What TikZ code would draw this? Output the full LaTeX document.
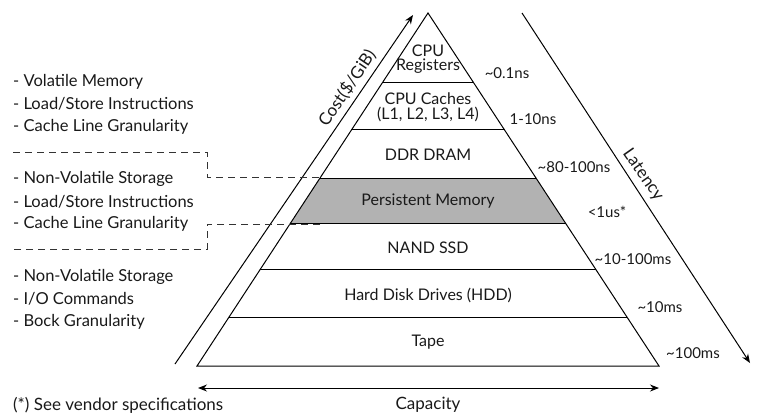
\documentclass[tikz,border=0pt]{standalone}
\usepackage{fontspec}
\setmainfont{Lato}
\usetikzlibrary{arrows.meta,calc}
\tikzset{
  tiername/.style={font=\fontsize{16}{17}\selectfont, align=center, inner sep=1pt},
  note/.style={anchor=west, font=\fontsize{16.5}{17}\selectfont, inner sep=0pt},
  delay/.style={font=\fontsize{15}{16}\selectfont, inner sep=1pt},
  axislabel/.style={font=\fontsize{17}{18}\selectfont, inner sep=1pt},
  axis/.style={line width=1pt, -{Stealth[length=9pt,width=7pt]}},
  guide/.style={dash pattern=on 7pt off 5pt, line width=1pt, black!80},
}
\begin{document}
\begin{tikzpicture}[x=1pt,y=-1pt,text=black!90]
  \useasboundingbox (0,0) rectangle (759,416);
  \coordinate (top) at (428,13);
  \coordinate (bl) at (197,366);
  \coordinate (br) at (659,366);
  % persistent memory band
  \fill [black!30] ($(top)!0.4674!(bl)$) -- ($(top)!0.4674!(br)$)
     -- ($(top)!0.5977!(br)$) -- ($(top)!0.5977!(bl)$) -- cycle;
  \draw [line width=1pt] (top) -- (bl) -- (br) -- cycle;
  \foreach \f in {0.1955,0.3314,0.4674,0.5977,0.7280,0.8612}
    \draw [line width=1pt] ($(top)!\f!(bl)$) -- ($(top)!\f!(br)$);
  \node [tiername] (reg) at (428,59) {CPU\\[-3pt]Registers};
  \node [tiername] (cache) at (428,107) {CPU Caches\\[-2pt](L1, L2, L3, L4)};
  \node [tiername] (dram) at (428,155) {DDR DRAM};
  \node [tiername] (pmem) at (428,201) {Persistent Memory};
  \node [tiername] (ssd) at (428,248) {NAND SSD};
  \node [tiername] (hdd) at (428,295) {Hard Disk Drives (HDD)};
  \node [tiername] (tape) at (428,342) {Tape};
  % latencies
  \node [delay] (l1) at (507,73) {\textasciitilde0.1ns};
  \node [delay] (l2) at (533,119) {1-10ns};
  \node [delay] (l3) at (574,167) {\textasciitilde80-100ns};
  \node [delay] (l4) at (607,212) {<1us*};
  \node [delay] (l5) at (633,259) {\textasciitilde10-100ms};
  \node [delay] (l6) at (660,307) {\textasciitilde10ms};
  \node [delay] (l7) at (693,353) {\textasciitilde100ms};
  % axes
  \coordinate (costa) at (175,364);
  \coordinate (costb) at (413,15);
  \coordinate (lata) at (522,13);
  \coordinate (latb) at (750,363);
  \coordinate (capa) at (198,388);
  \coordinate (capb) at (659,388);
  \draw [axis] (costa) -- (costb);
  \draw [axis] (lata) -- (latb);
  \draw [axis,{Stealth[length=9pt,width=7pt]}-{Stealth[length=9pt,width=7pt]}] (capa) -- (capb);
  \node [axislabel,rotate=56] (cost) at (347,88) {Cost(\$/GiB)};
  \node [axislabel,rotate=-55] (lat) at (643,175) {Latency};
  \node [axislabel] (cap) at (428,405) {Capacity};
  % left notes
  \node [note] (a1) at (13,82) {- Volatile Memory};
  \node [note] (a2) at (13,104) {- Load/Store Instructions};
  \node [note] (a3) at (13,127) {- Cache Line Granularity};
  \node [note] (b1) at (13,179) {- Non-Volatile Storage};
  \node [note] (b2) at (13,202) {- Load/Store Instructions};
  \node [note] (b3) at (13,224) {- Cache Line Granularity};
  \node [note] (c1) at (13,277) {- Non-Volatile Storage};
  \node [note] (c2) at (13,299) {- I/O Commands};
  \node [note] (c3) at (13,322) {- Bock Granularity};
  \node [note,font=\fontsize{17}{18}\selectfont] (foot) at (13,405) {(*) See vendor specifications};
  % dashed brackets
  \coordinate (ua) at (13,152);
  \coordinate (ub) at (207,152);
  \coordinate (uc) at (207,177);
  \coordinate (ud) at (320,177);
  \coordinate (da) at (320,224);
  \coordinate (db) at (207,224);
  \coordinate (dc) at (207,249);
  \coordinate (dd) at (13,249);
  \draw [guide] (ua) -- (ub) -- (uc) -- (ud);
  \draw [guide] (da) -- (db) -- (dc) -- (dd);
\end{tikzpicture}
\end{document}
